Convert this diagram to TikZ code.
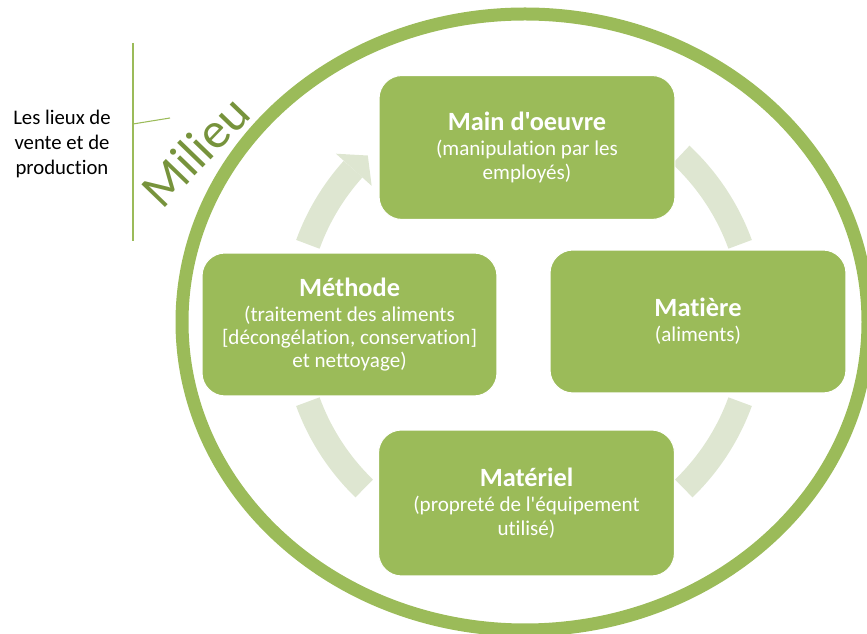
\documentclass[tikz,border=0pt]{standalone}
\usepackage{fontspec}
\setmainfont{Carlito}[Ligatures={NoCommon,TeXOff}]
\usetikzlibrary{calc}
\definecolor{olive}{HTML}{9BBB59}
\definecolor{olivedark}{HTML}{77933C}
\definecolor{olivepale}{HTML}{DEE6D1}
\tikzset{
  box/.style={fill=olive, draw=white, line width=0.6pt, rounded corners=0.46cm,
    minimum width=5.92cm, minimum height=2.88cm, inner sep=0pt,
    text=white, align=center, font=\fontsize{12}{13.3}\selectfont},
  cyclearc/.style={draw=olivepale, line width=0.5cm},
  ring/.style={draw=olive, line width=0.26cm},
  callout/.style={draw=olive, line width=0.6pt}
}
\newcommand{\boxtitle}[1]{{\fontsize{15}{18}\selectfont\bfseries #1}}
\begin{document}
\begin{tikzpicture}[x=0.02cm, y=-0.02cm]
  \useasboundingbox (0,0) rectangle (867,634);
  % outer ring
  \draw[ring] (525,322) ellipse [x radius=343, y radius=308];
  % cycle arcs between the four boxes
  \coordinate (c) at (524,323);
  \draw[cyclearc] ($(c)+(200:230)$) arc[start angle=200, end angle=222, radius=230];
  \fill[olivepale] ($(c)+(222:253)$) -- ($(c)+(227:229)$) -- ($(c)+(222:205)$) -- cycle;
  \draw[cyclearc] ($(c)+(313:230)$) arc[start angle=313, end angle=340, radius=230];
  \draw[cyclearc] ($(c)+(20:230)$) arc[start angle=20, end angle=46, radius=230];
  \draw[cyclearc] ($(c)+(134:230)$) arc[start angle=134, end angle=160, radius=230];
  % boxes
  \node[box] (main) at (527,147.5) {\boxtitle{Main d'oeuvre}\\[1pt](manipulation par les\\employés)};
  \node[box, minimum width=5.9cm, minimum height=2.86cm] (methode) at (349.5,324.5)
    {\boxtitle{Méthode}\\[1pt](traitement des aliments\\{[}décongélation, conservation{]}\\et nettoyage)};
  \node[box, minimum height=2.86cm] (matiere) at (698,321.5) {\boxtitle{Matière}\\[1pt](aliments)};
  \node[box, minimum height=2.92cm] (materiel) at (526.5,503) {\boxtitle{Matériel}\\[1pt](propreté de l'équipement\\utilisé)};
  % environment label
  \node[text=olivedark, font=\fontsize{29}{31}\selectfont, rotate=46] (milieu) at (195,151) {Milieu};
  \node[align=center, font=\fontsize{11.8}{14.5}\selectfont] (lieux) at (62,144) {Les lieux de\\vente et de\\production};
  \coordinate (vtop) at (133,43);
  \coordinate (vbot) at (133,241);
  \coordinate (vmid) at (133,124);
  \coordinate (tick) at (170,118);
  \draw[callout] (vtop) -- (vbot);
  \draw[callout] (vmid) -- (tick);
\end{tikzpicture}
\end{document}
